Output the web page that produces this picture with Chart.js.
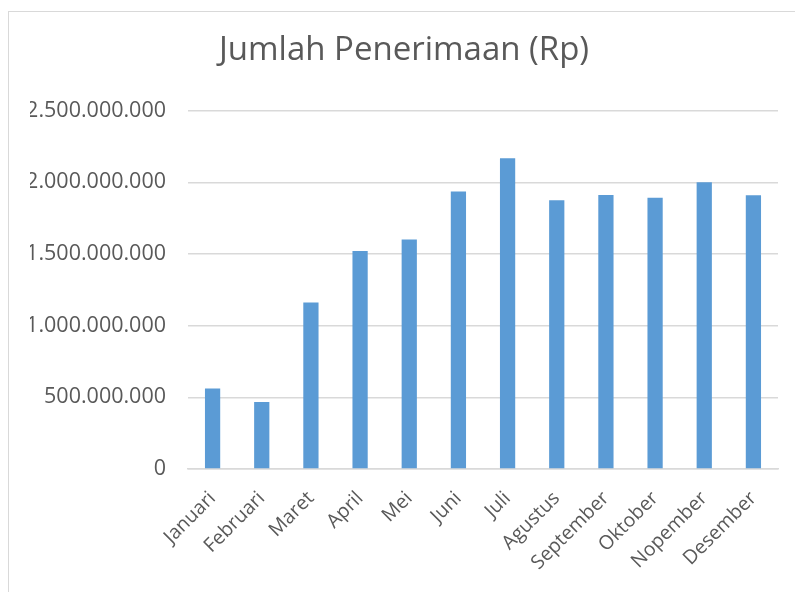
<!DOCTYPE html>
<html>
<head>
<meta charset="utf-8">
<script src="https://cdn.jsdelivr.net/npm/chart.js@4"></script>
<style>
  html, body { margin: 0; padding: 0; background: #fff; }
  #wrap { position: relative; width: 795px; height: 592px; overflow: hidden; }
  #frame { position: absolute; left: 8px; top: 11px; width: 820px; height: 620px; border: 1.5px solid #d9d9d9; }
  canvas { position: absolute; left: 0; top: 0; }
</style>
</head>
<body>
<div id="wrap">
  <div id="frame"></div>
  <canvas id="penerimaanChart" width="795" height="592"></canvas>
</div>
<script>
const months = ['Januari', 'Februari', 'Maret', 'April', 'Mei', 'Juni', 'Juli', 'Agustus', 'September', 'Oktober', 'Nopember', 'Desember'];
const penerimaan = [561000000, 468000000, 1161000000, 1520000000, 1601000000, 1936000000, 2167000000, 1874000000, 1911000000, 1892000000, 2000000000, 1909000000];
const yTicks = [0, 500000000, 1000000000, 1500000000, 2000000000, 2500000000];

function formatRp(v) {
    return String(v).replace(/\B(?=(\d{3})+(?!\d))/g, '.');
}

const ctx = document.getElementById('penerimaanChart').getContext('2d');

const penerimaanChart = new Chart(ctx, {
    type: 'bar',
    data: {
        labels: months,
        datasets: [{
            label: 'Jumlah Penerimaan (Rp)',
            data: penerimaan,
            backgroundColor: '#5b9bd5',
            borderWidth: 0,
            barPercentage: 0.31,
            categoryPercentage: 1
        }]
    },
    options: {
        responsive: false,
        animation: false,
        layout: {
            padding: { left: 30, right: 17, top: 12, bottom: 0 }
        },
        plugins: {
            legend: { display: false },
            tooltip: { enabled: false },
            title: {
                display: true,
                text: 'Jumlah Penerimaan (Rp)',
                color: '#595959',
                font: { family: 'Open Sans', size: 33, weight: 'normal' },
                padding: { top: 19, bottom: 40 }
            }
        },
        scales: {
            x: {
                grid: { display: false },
                border: { display: true, color: '#d9d9d9', width: 1.5 },
                ticks: {
                    color: '#595959',
                    font: { family: 'Open Sans', size: 19.5 },
                    minRotation: 45,
                    maxRotation: 45,
                    padding: 10
                },
                afterFit: function (scale) { scale.height = 123; }
            },
            y: {
                min: 0,
                max: 2500000000,
                afterBuildTicks: function (scale) {
                    scale.ticks = yTicks.map(v => ({ value: v }));
                },
                grid: { color: '#d9d9d9', lineWidth: 1.5, drawTicks: false },
                border: { display: false },
                ticks: {
                    color: '#595959',
                    font: { family: 'Open Sans', size: 21.5 },
                    padding: 22,
                    callback: v => formatRp(v)
                },
                afterFit: function (scale) { scale.width = 158; }
            }
        }
    }
});
</script>
</body>
</html>
